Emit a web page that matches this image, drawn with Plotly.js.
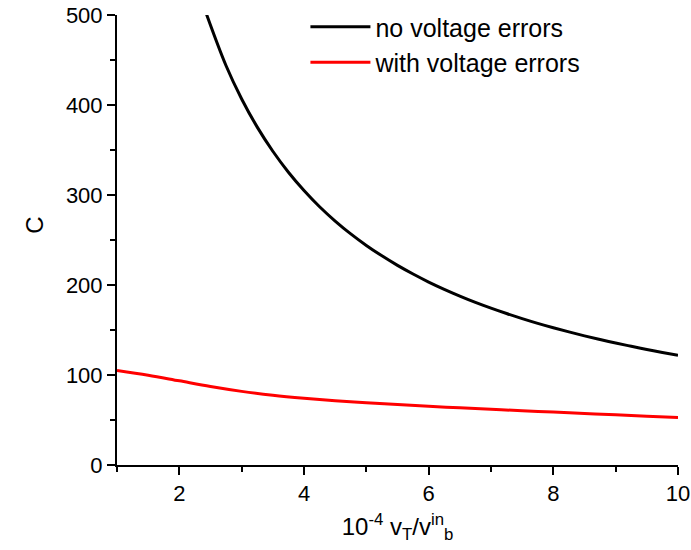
<!DOCTYPE html>
<html>
<head>
<meta charset="utf-8">
<script src="https://cdn.plot.ly/plotly-3.0.1.min.js"></script>
<style>html,body{margin:0;padding:0;background:#fff;}#chart{width:691px;height:550px;}</style>
</head>
<body>
<div id="chart"></div>
<script>
// Values
const xNoErr = [2.43, 2.75, 3, 3.25, 3.5, 3.75, 4, 4.25, 4.5, 4.75, 5, 5.25, 5.5, 5.75, 6, 6.25, 6.5, 6.75, 7, 7.25, 7.5, 7.75, 8, 8.25, 8.5, 8.75, 9, 9.25, 9.5, 9.75, 10];
const cNoErr = [502, 443.6, 406.7, 375.4, 348.6, 325.3, 305, 287, 271.1, 256.8, 244, 232.4, 221.8, 212.2, 203.3, 195.2, 187.7, 180.7, 174.3, 168.3, 162.7, 157.4, 152.5, 147.9, 143.5, 139.4, 135.6, 131.9, 128.4, 125.1, 122];
const xWithErr = [1, 1.5, 2, 2.5, 3, 3.5, 4, 4.5, 5, 5.5, 6, 6.5, 7, 7.5, 8, 8.5, 9, 9.5, 10];
const cWithErr = [105, 99.8, 93.5, 87.2, 81.8, 77.5, 74.2, 71.5, 69.2, 67.1, 65.2, 63.5, 61.9, 60.3, 58.8, 57.3, 55.8, 54.2, 52.7];
const seriesNames = ["no voltage errors", "with voltage errors"];

const FONT = "Liberation Sans, Arial, Helvetica, sans-serif";

const traces = [
  {x: xNoErr, y: cNoErr, type: "scatter", mode: "lines", name: seriesNames[0],
   line: {color: "#000000", width: 3, shape: "spline", smoothing: 1}},
  {x: xWithErr, y: cWithErr, type: "scatter", mode: "lines", name: seriesNames[1],
   line: {color: "#ff0000", width: 3, shape: "spline", smoothing: 1}}
];

const layout = {
  width: 691, height: 550,
  margin: {l: 117, r: 13, t: 15, b: 85, pad: 0, autoexpand: false},
  paper_bgcolor: "#ffffff", plot_bgcolor: "#ffffff",
  font: {family: FONT, color: "#000000", size: 22},
  showlegend: true,
  legend: {xref: "container", yref: "container", x: 0.442, y: 0.9927, xanchor: "left", yanchor: "top",
           bgcolor: "rgba(0,0,0,0)",
           font: {family: FONT, size: 25, color: "#000"}, itemwidth: 60, tracegroupgap: 0},
  xaxis: {
    range: [1, 10], tick0: 0, dtick: 2, ticks: "outside", ticklen: 8, tickwidth: 2,
    tickcolor: "#000", showline: true, linecolor: "#000", linewidth: 2, showgrid: false,
    zeroline: false, tickfont: {size: 22, family: FONT},
    minor: {tick0: 1, dtick: 2, ticks: "outside", ticklen: 5, tickwidth: 2, tickcolor: "#000", showgrid: false},
    title: {text: "10<sup>-4</sup> v<sub>T</sub>/v<sup>in</sup><sub>b</sub>", font: {size: 24, family: FONT}, standoff: 13}
  },
  yaxis: {
    range: [0, 500], tick0: 0, dtick: 100, ticks: "outside", ticklen: 8, tickwidth: 2,
    tickcolor: "#000", showline: true, linecolor: "#000", linewidth: 2, showgrid: false,
    zeroline: false, tickfont: {size: 22, family: FONT},
    minor: {dtick: 50, ticks: "outside", ticklen: 5, tickwidth: 2, tickcolor: "#000", showgrid: false},
    title: {text: ""}
  },
  annotations: [
    {text: "C", xref: "paper", yref: "paper", x: -0.147, y: 0.533, xanchor: "center", yanchor: "middle",
     textangle: -90, showarrow: false, font: {size: 24, family: FONT, color: "#000"}}
  ]
};

Plotly.newPlot("chart", traces, layout, {displayModeBar: false, staticPlot: true});
</script>
</body>
</html>
